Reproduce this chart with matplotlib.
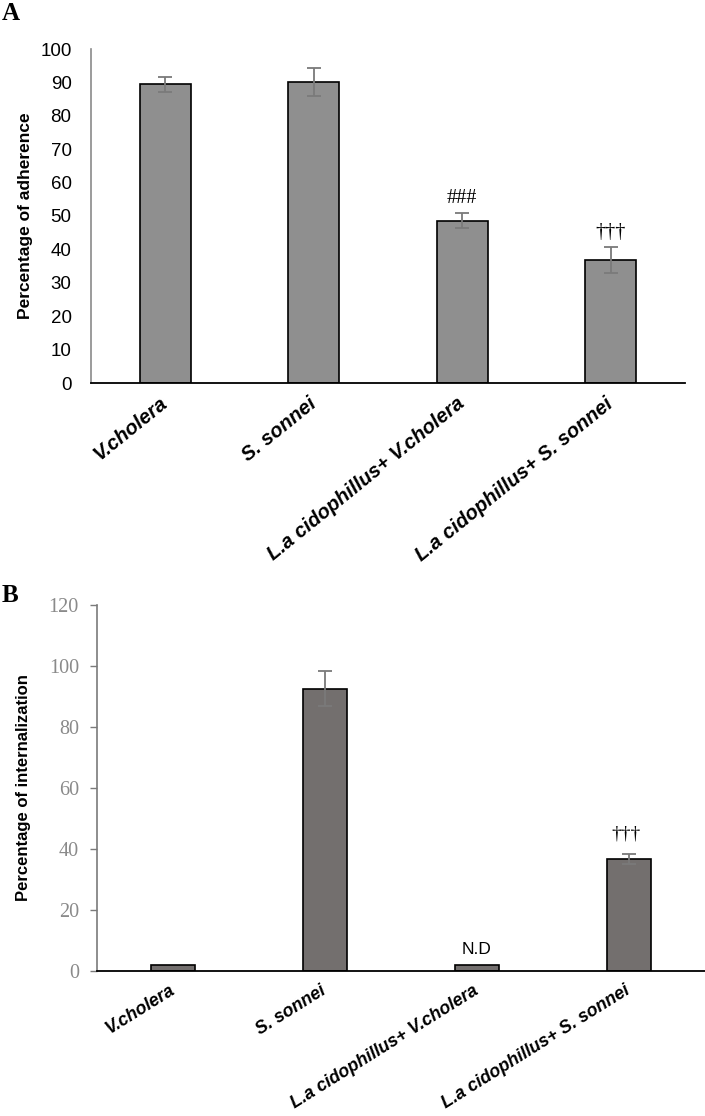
import matplotlib
matplotlib.use("Agg")
import matplotlib.pyplot as plt
import numpy as np

categories = ["V.cholera", "S. sonnei", "L.a cidophillus+ V.cholera", "L.a cidophillus+ S. sonnei"]

adherence = [89.4, 90.0, 48.6, 36.8]
adherence_err = [2.3, 4.2, 2.2, 4.0]
adherence_marks = ["", "", "###", "†††"]

internalization = [2.0, 92.5, 2.0, 36.8]
internalization_err = [0.0, 5.7, 0.0, 1.7]
internalization_marks = ["", "", "N.D", "†††"]

W, H = 705, 1116
fig = plt.figure(figsize=(W / 100, H / 100), dpi=100)

sans = "Liberation Sans"
serif = "Liberation Serif"

# ---------- Panel A ----------
axA = fig.add_axes([91 / W, 1 - 383 / H, (685 - 91) / W, (383 - 49) / H])
x = np.arange(len(categories))
axA.bar(x, adherence, width=0.345, color="#8f8f8f", edgecolor="black", linewidth=1.2, zorder=2)
axA.errorbar(x, adherence, yerr=adherence_err, fmt="none", ecolor="#7a7a7a",
             elinewidth=1.3, capsize=5, capthick=1.3, zorder=3)
axA.set_xlim(-0.5, 3.5)
axA.set_ylim(0, 100)
axA.set_yticks(np.arange(0, 101, 10))
axA.tick_params(axis="y", length=0, pad=14, labelsize=13.5)
for lab in axA.get_yticklabels():
    lab.set_fontfamily(sans)
axA.tick_params(axis="x", length=0)
axA.set_xticks(x)
axA.set_xticklabels(categories, rotation=39, ha="right", va="center", rotation_mode="anchor",
                    fontfamily=sans, fontweight="bold", fontstyle="italic", fontsize=14.5)
for lab in axA.get_xticklabels():
    lab.set_y(-0.04)
axA.spines["top"].set_visible(False)
axA.spines["right"].set_visible(False)
axA.spines["left"].set_color("#8a8a8a")
axA.spines["left"].set_linewidth(1.2)
axA.spines["bottom"].set_color("black")
axA.spines["bottom"].set_linewidth(1.3)
axA.set_ylabel("Percentage of adherence", fontfamily=sans, fontweight="bold", fontsize=12.5, labelpad=5)
for xi, v, e, m in zip(x, adherence, adherence_err, adherence_marks):
    if m:
        axA.text(xi, v + e + 4.3, m, ha="center", va="center", fontfamily=serif, fontsize=14.5)

fig.text(2 / W, 1 - 14 / H, "A", fontfamily=serif, fontweight="bold", fontsize=18, ha="left", va="center")

# ---------- Panel B ----------
axB = fig.add_axes([97 / W, 1 - 971 / H, (705 - 97) / W, (971 - 605) / H])
axB.bar(x, internalization, width=0.29, color="#736f6e", edgecolor="black", linewidth=1.2, zorder=2)
ex = [xi for xi, e in zip(x, internalization_err) if e > 0]
ev = [v for v, e in zip(internalization, internalization_err) if e > 0]
ee = [e for e in internalization_err if e > 0]
axB.errorbar(ex, ev, yerr=ee, fmt="none", ecolor="#7a7a7a",
             elinewidth=1.3, capsize=5, capthick=1.3, zorder=3)
axB.set_xlim(-0.5, 3.5)
axB.set_ylim(0, 120)
axB.set_yticks(np.arange(0, 121, 20))
axB.tick_params(axis="y", length=5, width=1, color="#7a7a7a", pad=8, labelsize=14.5, labelcolor="#8a8a8a")
for lab in axB.get_yticklabels():
    lab.set_fontfamily(serif)
axB.tick_params(axis="x", length=0)
axB.set_xticks(x)
axB.set_xticklabels(categories, rotation=32, ha="right", va="center", rotation_mode="anchor",
                    fontfamily=sans, fontweight="bold", fontstyle="italic", fontsize=12.8)
for lab in axB.get_xticklabels():
    lab.set_y(-0.036)
axB.spines["top"].set_visible(False)
axB.spines["right"].set_visible(False)
axB.spines["left"].set_color("#7a7a7a")
axB.spines["left"].set_linewidth(1.2)
axB.spines["bottom"].set_color("black")
axB.spines["bottom"].set_linewidth(1.3)
axB.set_ylabel("Percentage of internalization", fontfamily=sans, fontweight="bold", fontsize=12, labelpad=13)
for xi, v, e, m in zip(x, internalization, internalization_err, internalization_marks):
    if m == "N.D":
        axB.text(xi, v + 5.2, m, ha="center", va="center", fontfamily=sans, fontsize=12.5)
    elif m:
        axB.text(xi - 0.02, v + e + 6.5, m, ha="center", va="center", fontfamily=serif, fontsize=14)

fig.text(2 / W, 1 - 595 / H, "B", fontfamily=serif, fontweight="bold", fontsize=18, ha="left", va="center")

fig.savefig("out.png", dpi=100)
